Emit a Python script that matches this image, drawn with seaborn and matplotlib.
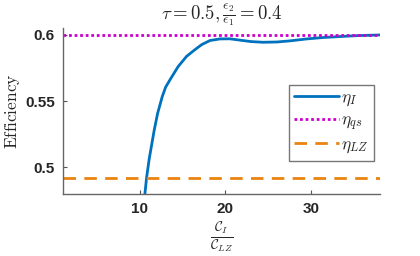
import matplotlib
matplotlib.use("Agg")
import matplotlib.pyplot as plt
import pandas as pd
import seaborn as sns

# eta_I
ratio = [10.45, 10.58, 10.78, 11.09, 11.67, 12.07, 12.61, 13.0, 13.51, 14.48,
         15.46, 16.43, 17.22, 18.19, 19.36, 20.5, 21.7, 23.0, 24.4, 26.0,
         27.5, 29.5, 31.5, 33.4, 35.5, 38.1]
eta_I = [0.4715, 0.4800, 0.4924, 0.5066, 0.5280, 0.5407, 0.5533, 0.5603, 0.5659, 0.5760,
         0.5836, 0.5886, 0.5924, 0.5955, 0.5967, 0.5968, 0.5958, 0.5947, 0.5942, 0.5944,
         0.5952, 0.5967, 0.5978, 0.5985, 0.5992, 0.5997]
ratio_span = [1, 38.1]
eta_qs = 0.6
eta_LZ = 0.4924

x_ticks = [10, 20, 30]
y_ticks = [0.5, 0.55, 0.6]
y_ticklabels = ["0.5", "0.55", "0.6"]

sns.set_style("ticks")
plt.rcParams["mathtext.fontset"] = "cm"
plt.rcParams["font.family"] = ["Liberation Sans", "DejaVu Sans"]

df = pd.DataFrame({"x": ratio, "y": eta_I})
flat = pd.DataFrame({"x": ratio_span, "qs": [eta_qs] * 2, "lz": [eta_LZ] * 2})

fig = plt.figure(figsize=(4.2, 2.56), dpi=100)
ax = fig.add_axes([0.15, 0.242, 0.755, 0.649])

sns.lineplot(data=df, x="x", y="y", ax=ax, color="#0072BD", lw=2.0,
             label=r"$\eta_I$", sort=False)
sns.lineplot(data=flat, x="x", y="qs", ax=ax, color="#CC00CC", lw=2.0,
             linestyle=(0, (1, 1)), label=r"$\eta_{qs}$")
sns.lineplot(data=flat, x="x", y="lz", ax=ax, color="#EA8410", lw=2.0,
             linestyle=(0, (4.5, 3)), label=r"$\eta_{LZ}$")

ax.set_xlim(1, 38.1)
ax.set_ylim(0.48, 0.605)
ax.set_xticks(x_ticks)
ax.set_yticks(y_ticks)
ax.set_yticklabels(y_ticklabels)
for lab in ax.get_xticklabels() + ax.get_yticklabels():
    lab.set_fontweight("bold")
    lab.set_fontsize(11)
    lab.set_color("#262626")
ax.tick_params(direction="in", length=3, width=0.8, color="#555555", pad=6)

for side in ["top", "right"]:
    ax.spines[side].set_visible(False)
for side in ["left", "bottom"]:
    ax.spines[side].set_color("#666666")
    ax.spines[side].set_linewidth(1.0)

ax.set_title(r"$\tau=0.5,\frac{\epsilon_2}{\epsilon_1}=0.4$", fontsize=13.5, pad=4)
ax.set_xlabel(r"$\frac{\mathcal{C}_I}{\mathcal{C}_{LZ}}$", fontsize=14, labelpad=2)
ax.set_ylabel(r"$\mathrm{Efficiency}$", fontsize=12.5, labelpad=2)

leg = ax.legend(loc="center right", bbox_to_anchor=(0.981, 0.43), fontsize=12.5,
                frameon=True, fancybox=False, handlelength=2.6, handletextpad=0.1,
                borderpad=0.3, labelspacing=0.25, borderaxespad=0)
leg.get_frame().set_edgecolor("#555555")
leg.get_frame().set_linewidth(1.0)

fig.savefig("out.png", dpi=100)
